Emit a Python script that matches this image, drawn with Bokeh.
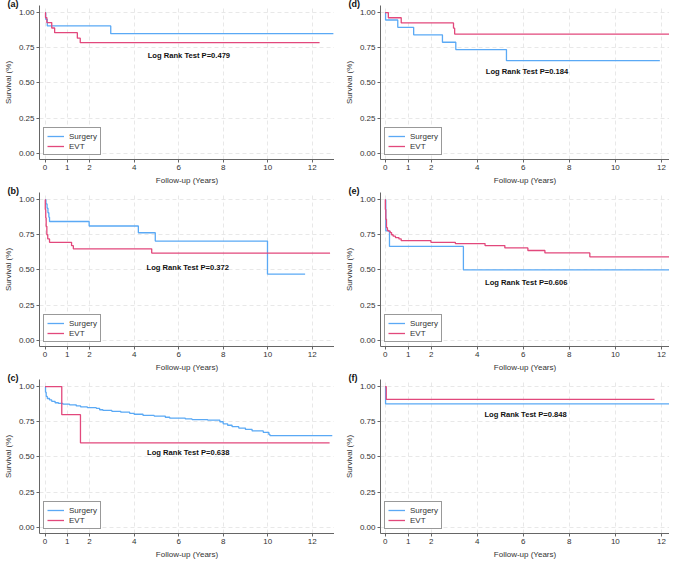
from bokeh.plotting import figure
from bokeh.models import Range1d, FixedTicker, Label, NumeralTickFormatter
from bokeh.layouts import gridplot
from bokeh.embed import file_html
from bokeh.resources import INLINE

# ---------------- data ----------------
panel_names = ["(a)", "(b)", "(c)", "(d)", "(e)", "(f)"]
p_values = ["0.479", "0.372", "0.638", "0.184", "0.606", "0.848"]
series_names = ["Surgery", "EVT"]
x_ticks = [0, 1, 2, 4, 6, 8, 10, 12]
y_ticks = [0.0, 0.25, 0.5, 0.75, 1.0]

a_surg_t = [0, 0.03, 0.10, 2.95, 12.95]
a_surg_s = [1.0, 0.952, 0.905, 0.850, 0.850]
a_evt_t = [0, 0.02, 0.08, 0.30, 0.43, 1.45, 1.58, 12.33]
a_evt_s = [1.0, 0.964, 0.929, 0.890, 0.857, 0.818, 0.786, 0.786]

b_surg_t = [0, 0.04, 0.09, 0.13, 0.17, 0.20, 1.98, 4.19, 4.95, 9.99, 11.68]
b_surg_s = [1.0, 0.969, 0.938, 0.906, 0.875, 0.844, 0.812, 0.764, 0.705, 0.470, 0.470]
b_evt_t = [0, 0.01, 0.03, 0.05, 0.08, 0.12, 0.20, 1.19, 1.27, 4.79, 12.80]
b_evt_s = [1.0, 0.93, 0.87, 0.81, 0.75, 0.72, 0.696, 0.672, 0.650, 0.620, 0.620]

c_surg_t = [0, 0.02, 0.05, 0.10, 0.20, 0.30, 0.45, 0.60, 0.80, 1.10, 1.40, 1.60, 1.90,
            2.30, 2.45, 2.60, 3.00, 3.40, 3.80, 4.00, 4.40, 4.90, 5.40, 5.60, 6.30, 6.60,
            7.30, 7.85, 8.00, 8.20, 8.40, 8.70, 9.00, 9.30, 9.80, 10.05, 10.10, 12.90]
c_surg_s = [1.0, 0.96, 0.93, 0.915, 0.905, 0.895, 0.885, 0.880, 0.875, 0.870, 0.862, 0.855,
            0.850, 0.845, 0.835, 0.830, 0.824, 0.818, 0.810, 0.803, 0.795, 0.790, 0.782,
            0.775, 0.770, 0.765, 0.762, 0.750, 0.735, 0.725, 0.715, 0.705, 0.695, 0.685,
            0.675, 0.660, 0.652, 0.652]
c_evt_t = [0, 0.75, 1.59, 12.78]
c_evt_s = [1.0, 0.80, 0.60, 0.60]

d_surg_t = [0, 0.02, 0.55, 1.24, 2.49, 3.07, 5.27, 11.93]
d_surg_s = [1.0, 0.947, 0.895, 0.842, 0.789, 0.737, 0.658, 0.658]
d_evt_t = [0, 0.14, 0.70, 2.97, 3.02, 12.40]
d_evt_s = [1.0, 0.963, 0.926, 0.889, 0.847, 0.847]

e_surg_t = [0, 0.03, 0.19, 3.40, 12.40]
e_surg_s = [1.0, 0.778, 0.667, 0.500, 0.500]
e_evt_t = [0, 0.01, 0.03, 0.06, 0.10, 0.15, 0.22, 0.28, 0.35, 0.45, 0.60, 0.70,
           1.99, 3.05, 4.34, 5.20, 6.20, 6.94, 8.89, 12.40]
e_evt_s = [1.0, 0.93, 0.86, 0.80, 0.78, 0.775, 0.765, 0.750, 0.740, 0.730, 0.720, 0.708,
           0.696, 0.687, 0.673, 0.656, 0.638, 0.621, 0.593, 0.593]

f_surg_t = [0, 0.02, 12.40]
f_surg_s = [1.0, 0.877, 0.877]
f_evt_t = [0, 0.05, 11.70]
f_evt_s = [1.0, 0.909, 0.909]

# ---------------- styling ----------------
BLUE = "#5aa9f5"
PINK = "#e2487c"
FONT = "Liberation Sans"
AX = "#666666"

panels = [
    (a_surg_t, a_surg_s, a_evt_t, a_evt_s, (6.46, 0.694)),
    (b_surg_t, b_surg_s, b_evt_t, b_evt_s, (6.41, 0.516)),
    (c_surg_t, c_surg_s, c_evt_t, c_evt_s, (6.43, 0.534)),
    (d_surg_t, d_surg_s, d_evt_t, d_evt_s, (6.16, 0.583)),
    (e_surg_t, e_surg_s, e_evt_t, e_evt_s, (6.13, 0.413)),
    (f_surg_t, f_surg_s, f_evt_t, f_evt_s, (6.10, 0.800)),
]

Y0, Y1 = -0.044, 1.05


def make(idx):
    st, ss, et, es, (tx, ty) = panels[idx]
    left_col = idx < 3
    if left_col:
        w, mbl, x0, x1 = 334, 34, -0.25, 13.0
    else:
        w, mbl, x0, x1 = 335, 46, -0.20, 12.35
    p = figure(width=w, height=187, output_backend="svg", toolbar_location=None,
               x_range=Range1d(x0, x1), y_range=Range1d(Y0, Y1),
               min_border_left=mbl, min_border_right=0, min_border_top=0,
               min_border_bottom=10)
    p.title.text = panel_names[idx]
    p.title.align = "left"
    p.title.offset = -32
    p.title.standoff = -7
    p.title.text_font = FONT
    p.title.text_font_size = "9px"
    p.title.text_font_style = "bold"
    p.title.text_color = "#111111"

    p.outline_line_color = None
    p.background_fill_color = "white"
    p.border_fill_color = "white"

    p.step(st, ss, mode="after", line_color=BLUE, line_width=1.3, legend_label=series_names[0])
    p.step(et, es, mode="after", line_color=PINK, line_width=1.3, legend_label=series_names[1])

    p.xaxis.ticker = FixedTicker(ticks=x_ticks)
    p.yaxis.ticker = FixedTicker(ticks=y_ticks)
    p.yaxis.formatter = NumeralTickFormatter(format="0.00")
    p.xaxis.axis_label = "Follow-up (Years)"
    p.yaxis.axis_label = "Survival (%)"
    for ax in (p.xaxis, p.yaxis):
        ax.axis_line_color = AX
        ax.major_tick_line_color = AX
        ax.major_tick_out = 3
        ax.major_tick_in = 0
        ax.minor_tick_line_color = None
        ax.major_label_text_font = FONT
        ax.major_label_text_font_size = "8px"
        ax.major_label_text_color = "#333333"
        ax.major_label_standoff = 2
        ax.axis_label_text_font = FONT
        ax.axis_label_text_font_size = "8px"
        ax.axis_label_text_font_style = "normal"
        ax.axis_label_text_color = "#333333"
        ax.axis_label_standoff = 3
    for g in (p.xgrid, p.ygrid):
        g.grid_line_color = "#e2e2e2"
        g.grid_line_dash = "4 3"
        g.grid_line_width = 0.8

    lg = p.legend[0]
    lg.location = "bottom_left"
    lg.margin = 4
    lg.padding = 3
    lg.spacing = 0
    lg.label_height = 10
    lg.glyph_height = 10
    lg.glyph_width = 17
    lg.label_standoff = 5
    lg.label_text_font = FONT
    lg.label_text_font_size = "8px"
    lg.label_text_color = "#333333"
    lg.border_line_color = "#333333"
    lg.border_line_width = 1
    lg.background_fill_alpha = 1.0

    p.add_layout(Label(x=tx, y=ty, text="Log Rank Test P=" + p_values[idx],
                       text_align="center", text_baseline="middle",
                       text_font=FONT, text_font_size="7.6px", text_font_style="bold",
                       text_color="#111111"))
    return p


figs = [make(i) for i in range(6)]
grid = gridplot([[figs[0], figs[3]], [figs[1], figs[4]], [figs[2], figs[5]]],
                toolbar_location=None)

open("out.html", "w").write(file_html(grid, INLINE))
